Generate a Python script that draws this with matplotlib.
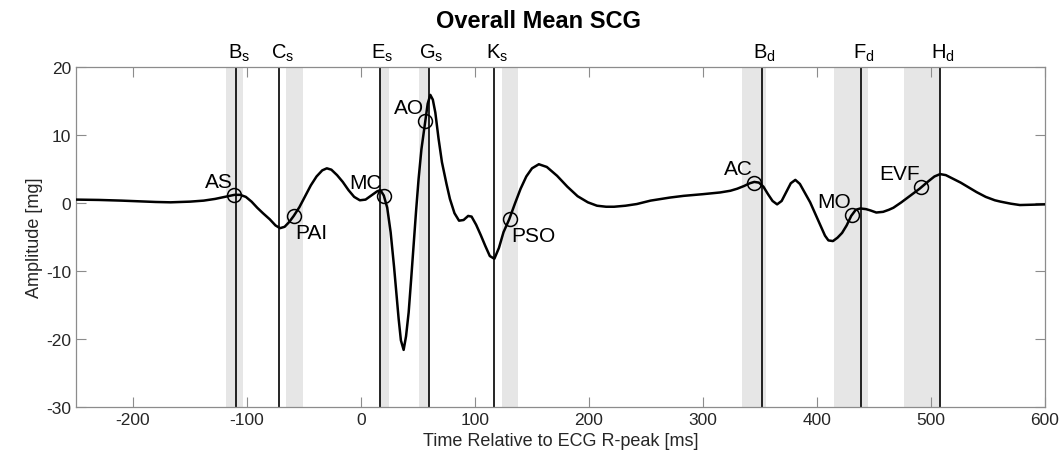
import matplotlib
matplotlib.use('Agg')
import matplotlib.pyplot as plt

plt.rcParams['font.family'] = ['Liberation Sans', 'DejaVu Sans']
plt.rcParams['mathtext.fontset'] = 'custom'
plt.rcParams['mathtext.rm'] = 'Liberation Sans'
plt.rcParams['mathtext.it'] = 'Liberation Sans'
plt.rcParams['axes.unicode_minus'] = False

# ── dados ──────────────────────────────────────────────────────────────────
time_ms = [
    -250, -230, -210, -196, -180, -167, -150, -138, -128, -121, -115, -111,
    -106, -101, -96, -91, -86, -80, -75, -71, -67, -63, -59, -54, -49, -44,
    -39, -34, -30, -26, -21, -16, -11, -6, -1, 4, 9, 14, 17, 20, 23, 26, 29,
    31, 33, 35, 37.4, 39.5, 41.8, 44, 46.1, 48.3, 50.5, 53, 56.4, 58.5, 60.8,
    63, 65.2, 68, 71, 75, 78, 82, 86, 90, 94, 97, 101, 105, 109, 113, 117,
    121, 125, 130, 135, 140, 145, 150, 156, 163, 172, 181, 190, 199, 207,
    215, 222, 232, 242, 254, 271, 283, 300, 315, 324, 330, 336, 341, 345,
    349, 353, 357, 361, 365, 369, 373, 377, 381, 385, 389, 394, 399, 403,
    407, 410, 414, 418, 422, 426, 430, 434, 438, 443, 447, 452, 458, 463,
    467, 474, 482, 490, 497, 503, 508, 513, 520, 526, 533, 540, 548, 556,
    561, 570, 578, 590, 600,
]
amp_mg = [
    0.5, 0.45, 0.35, 0.25, 0.15, 0.1, 0.2, 0.35, 0.6, 0.85, 1.05, 1.2,
    1.2, 0.9, 0.2, -0.7, -1.5, -2.4, -3.3, -3.7, -3.5, -2.8, -1.9, -0.6, 1.0, 2.6,
    3.9, 4.8, 5.1, 4.9, 4.1, 3.1, 1.9, 0.9, 0.4, 0.5, 1.1, 1.7, 1.9, 1.1, -0.7, -4.3, -9.4,
    -13.2, -17.0, -20.2, -21.6, -19.6, -16.1, -11.2, -6.3, -1.2, 3.5, 7.9, 12.1, 14.6, 15.9,
    15.2, 13.3, 9.5, 6.0, 2.8, 0.6, -1.5, -2.6, -2.5, -1.9, -2.0, -3.2, -4.7, -6.3, -7.8, -8.2,
    -6.6, -4.3, -2.4, -0.1, 2.1, 3.9, 5.1, 5.7, 5.3, 4.0, 2.4, 1.0, 0.1, -0.4,
    -0.55, -0.55, -0.4, -0.15, 0.35, 0.8, 1.05, 1.3, 1.55, 1.8, 2.1, 2.5, 2.9, 3.1,
    3.0, 2.4, 1.3, 0.3, -0.2, 0.3, 1.6, 2.9, 3.4, 2.8, 1.6, 0.1, -1.8, -3.3,
    -4.8, -5.5, -5.6, -5.1, -4.4, -3.3, -1.9, -1.0, -0.8, -0.9, -1.1, -1.4, -1.3, -1.0,
    -0.7, 0.1, 1.1, 2.1, 3.1, 3.9, 4.25, 4.1, 3.5, 3.0, 2.3, 1.6, 0.9, 0.4,
    0.2, -0.1, -0.3, -0.25, -0.2,
]

# eventos fiduciais (linhas verticais + rótulo no topo)
fid_labels = [r'B$_\mathrm{s}$', r'C$_\mathrm{s}$', r'E$_\mathrm{s}$', r'G$_\mathrm{s}$',
              r'K$_\mathrm{s}$', r'B$_\mathrm{d}$', r'F$_\mathrm{d}$', r'H$_\mathrm{d}$']
fid_ms = [-109.5, -71.5, 16.5, 59.5, 117, 351.5, 438.5, 508]

# faixas cinzas
band_start = [-118, -65.5, 17, 50.5, 123.5, 334, 414.5, 476.5]
band_end = [-103.5, -51, 25, 59.5, 138, 355, 444.5, 508]

# pontos anotados
ev_names = ['AS', 'PAI', 'MC', 'AO', 'PSO', 'AC', 'MO', 'EVF']
ev_ms = [-111.5, -59, 19.8, 56.4, 130.4, 345, 430.7, 491.5]
ev_mg = [1.2, -1.95, 1.0, 12.0, -2.35, 3.0, -1.75, 2.35]
ev_below = [False, True, False, False, True, False, False, False]

xticks = [-200, -100, 0, 100, 200, 300, 400, 500, 600]
yticks = [-30, -20, -10, 0, 10, 20]

# ── figura ─────────────────────────────────────────────────────────────────
fig = plt.figure(figsize=(10.63, 4.6), dpi=100)
ax = fig.add_axes([76 / 1063, 1 - 408 / 460, (1045 - 76) / 1063, (408 - 68) / 460])

for a, b in zip(band_start, band_end):
    ax.axvspan(a, b, color='#e6e6e6', lw=0, zorder=1)

for x in fid_ms:
    ax.axvline(x, color='black', lw=1.2, zorder=2)

ax.plot(time_ms, amp_mg, color='black', lw=1.8, zorder=3)
ax.plot(ev_ms, ev_mg, 'o', ms=10, mfc='none', mec='black', mew=1.1, zorder=4)

for name, x, y, below in zip(ev_names, ev_ms, ev_mg, ev_below):
    if below:
        ax.annotate(name, (x, y), xytext=(1, -5), textcoords='offset points',
                    ha='left', va='top', fontsize=15, zorder=5)
    else:
        ax.annotate(name, (x, y), xytext=(-1, 3), textcoords='offset points',
                    ha='right', va='bottom', fontsize=15, zorder=5)

for lbl, x in zip(fid_labels, fid_ms):
    ax.annotate(lbl, (x, 1), xycoords=('data', 'axes fraction'),
                xytext=(2, 3), textcoords='offset points',
                ha='center', va='bottom', fontsize=14.5)

ax.set_xlim(-250, 600)
ax.set_ylim(-30, 20)
ax.set_xticks(xticks)
ax.set_yticks(yticks)
ax.tick_params(direction='in', length=7, width=0.8, color='#8c8c8c',
               labelsize=12.5, labelcolor='#262626', top=True, right=True)
for s in ax.spines.values():
    s.set_color('#8c8c8c')
    s.set_linewidth(0.9)

ax.set_xlabel('Time Relative to ECG R-peak [ms]', fontsize=13, color='#262626', labelpad=4)
ax.set_ylabel('Amplitude [mg]', fontsize=13, color='#262626', labelpad=2)

fig.text(539 / 1063, 1 - 28 / 460, 'Overall Mean SCG', ha='center', va='baseline',
         fontsize=17, fontweight='bold')

fig.savefig('out.png', dpi=100, facecolor='white')
